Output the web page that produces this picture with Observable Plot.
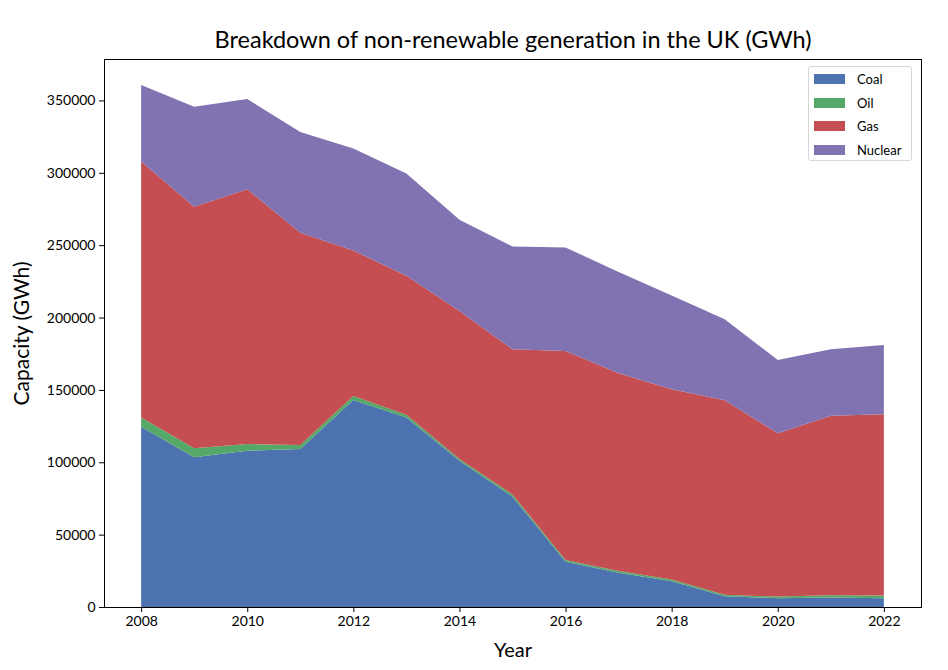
<!DOCTYPE html>
<html>
<head>
<meta charset="utf-8">
<script src="https://cdn.jsdelivr.net/npm/d3@7"></script>
<script src="https://cdn.jsdelivr.net/npm/@observablehq/plot@0.6"></script>
<style>
  body { margin: 0; background: #fff; }
  #wrap { position: relative; width: 948px; height: 670px; font-family: Lato, "Open Sans", sans-serif; }
  #legend { position: absolute; left: 808px; top: 66px; width: 104px; height: 95px; border: 1px solid #d8d8d8; border-radius: 3px; background: rgba(255,255,255,0.85); box-sizing: border-box; font-size: 13px; }
  .row { position: absolute; left: 5px; height: 14px; display: flex; align-items: center; }
  .sw { width: 31px; height: 10px; margin-right: 12px; }
</style>
</head>
<body>
<div id="wrap"></div>
<script>
const years = [2008, 2009, 2010, 2011, 2012, 2013, 2014, 2015, 2016, 2017, 2018, 2019, 2020, 2021, 2022];
const coal    = [124600, 103400, 108000, 109100, 143000, 131000, 101000, 76200, 31200, 23600, 17800, 7500, 6100, 6500, 6100];
const oil     = [6400, 6200, 4600, 2800, 2800, 1900, 1200, 1500, 1200, 1200, 1200, 900, 1100, 1700, 1900];
const gas     = [176800, 166900, 176100, 146600, 100500, 95900, 102400, 100400, 144500, 136700, 131400, 134400, 112800, 124000, 125100];
const nuclear = [52800, 69200, 62300, 69700, 70500, 70700, 62900, 70900, 71500, 70000, 64800, 56000, 50700, 45900, 47900];
const seriesNames = ["Coal", "Oil", "Gas", "Nuclear"];
const seriesColors = ["#4c72b0", "#55a868", "#c44e52", "#8172b2"];
const xTicks = [2008, 2010, 2012, 2014, 2016, 2018, 2020, 2022];
const yTicks = [0, 50000, 100000, 150000, 200000, 250000, 300000, 350000];
const title = "Breakdown of non-renewable generation in the UK (GWh)";

const seriesValues = [coal, oil, gas, nuclear];
const data = [];
seriesNames.forEach((name, i) => {
  years.forEach((y, j) => data.push({year: y, source: name, value: seriesValues[i][j]}));
});

const chart = Plot.plot({
  width: 948,
  height: 670,
  marginLeft: 104,
  marginRight: 27,
  marginTop: 59,
  marginBottom: 63,
  style: {fontFamily: "Lato, 'Open Sans', sans-serif", fontSize: "14px", color: "#000", background: "#fff"},
  x: {domain: [2007.3, 2022.7], ticks: xTicks, tickFormat: "d", tickSize: 5, label: null},
  y: {domain: [0, 378630], ticks: yTicks, tickFormat: d => String(d), tickSize: 5, label: null},
  color: {domain: seriesNames, range: seriesColors},
  marks: [
    Plot.areaY(data, {x: "year", y: "value", z: "source", fill: "source", order: seriesNames, fillOpacity: 1}),
    Plot.frame({stroke: "#000", strokeWidth: 1}),
    Plot.axisX({ticks: xTicks, tickFormat: "d", tickSize: 5, fontSize: 14, tickPadding: 4, label: null}),
    Plot.axisY({ticks: yTicks, tickFormat: d => String(d), tickSize: 5, fontSize: 14, tickPadding: 4, label: null}),
    Plot.text([title], {frameAnchor: "top", dy: -28, fontSize: 23.5, fill: "#000", text: d => d}),
    Plot.text(["Year"], {frameAnchor: "bottom", dy: 49, fontSize: 20, fill: "#000", text: d => d}),
    Plot.text(["Capacity (GWh)"], {frameAnchor: "left", dx: -82, rotate: -90, textAnchor: "middle", fontSize: 21, fill: "#000", text: d => d})
  ]
});
const wrap = document.getElementById("wrap");
wrap.appendChild(chart);

const legend = document.createElement("div");
legend.id = "legend";
seriesNames.forEach((name, i) => {
  const row = document.createElement("div");
  row.className = "row";
  row.style.top = (5 + i * 23.5) + "px";
  const sw = document.createElement("div");
  sw.className = "sw";
  sw.style.background = seriesColors[i];
  const lab = document.createElement("span");
  lab.textContent = name;
  row.appendChild(sw);
  row.appendChild(lab);
  legend.appendChild(row);
});
wrap.appendChild(legend);
</script>
</body>
</html>
